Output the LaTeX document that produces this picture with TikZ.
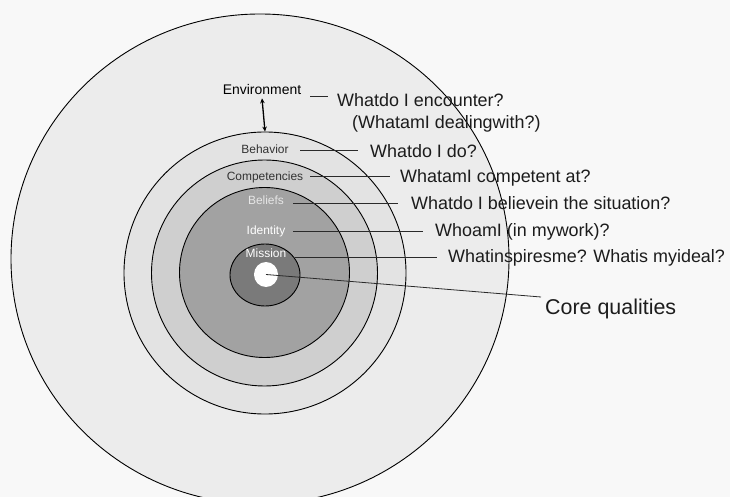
\documentclass[tikz,border=0pt]{standalone}
\usepackage{fontspec}
\setmainfont{Liberation Sans}
\usetikzlibrary{shapes.geometric,arrows.meta}
\definecolor{bg}{HTML}{F8F8F8}
\definecolor{envfill}{HTML}{ECECEC}
\definecolor{behfill}{HTML}{E3E3E3}
\definecolor{compfill}{HTML}{CFCFCF}
\definecolor{belfill}{HTML}{BBBBBB}
\definecolor{identfill}{HTML}{A2A2A2}
\definecolor{misfill}{HTML}{7A7A7A}
\definecolor{dark}{HTML}{333333}
\definecolor{belt}{HTML}{E6E6E6}
\definecolor{qcol}{HTML}{1C1C1C}
\definecolor{linecol}{HTML}{2A2A2A}
\pgfdeclareradialshading{identshade}{\pgfpoint{0bp}{0bp}}{color(0bp)=(identfill); color(26bp)=(identfill); color(40bp)=(belfill); color(50bp)=(belfill)}
\begin{document}
\begin{tikzpicture}[x=1bp,y=-1bp,
  ring/.style={circle,draw=black,line width=0.9bp,inner sep=0pt},
  oval/.style={ellipse,draw=black,line width=0.9bp,inner sep=0pt},
  lbl/.style={font=\fontsize{12}{14}\selectfont,inner sep=0pt,anchor=base},
  qtext/.style={font=\fontsize{18}{21}\selectfont,text=qcol,inner sep=0pt,anchor=base west},
  leader/.style={draw=linecol,line width=0.8bp}]
\useasboundingbox (0,0) rectangle (730,497);
\clip (0,0) rectangle (730,497);
\fill[bg] (0,0) rectangle (730,497);
% rings
\node[oval,fill=envfill,minimum width=498bp,minimum height=490bp] (envc) at (260,259) {};
\node[ring,fill=behfill,minimum size=282bp] (behc) at (265,273) {};
\node[ring,fill=compfill,minimum size=226bp] (compc) at (264.5,273) {};
\node[ring,shade,shading=identshade,minimum size=170bp] (belc) at (264.5,272.5) {};
\node[oval,fill=misfill,minimum width=70bp,minimum height=62bp] (misc) at (265,275) {};
\node[ellipse,fill=white,inner sep=0pt,minimum width=24bp,minimum height=25bp] (core) at (266,274.5) {};
% ring labels
\node[lbl,font=\fontsize{14}{16}\selectfont] (env) at (262,95) {Environment};
\node[lbl,text=dark] (beh) at (265,154) {Behavior};
\node[lbl,text=dark] (comp) at (265,181) {Competencies};
\node[lbl,text=belt] (bel) at (266,205) {Beliefs};
\node[lbl,text=white] (ide) at (266,235) {Identity};
\node[lbl,text=white] (mis) at (266,258) {Mission};
% questions
\node[qtext] (qenv) at (337,107) {Whatdo I encounter?};
\node[qtext] (qenv2) at (352,129) {(WhatamI dealingwith?)};
\node[qtext] (qbeh) at (370,158) {Whatdo I do?};
\node[qtext] (qcomp) at (400,183) {WhatamI competent at?};
\node[qtext] (qbel) at (411,210) {Whatdo I believein the situation?};
\node[qtext] (qide) at (435,237) {WhoamI (in mywork)?};
\node[qtext] (qmis) at (448,263) {Whatinspiresme? Whatis myideal?};
\node[qtext,font=\fontsize{21.5}{24}\selectfont] (qcore) at (545,314) {Core qualities};
% leader end points
\coordinate (e1) at (310,96);  \coordinate (e2) at (328,96);
\coordinate (b1) at (300,150); \coordinate (b2) at (358,150);
\coordinate (c1) at (310,176); \coordinate (c2) at (390,176);
\coordinate (l1) at (293,203); \coordinate (l2) at (398,203);
\coordinate (i1) at (293,231); \coordinate (i2) at (423,231);
\coordinate (m1) at (295,257); \coordinate (m2) at (437,257);
\coordinate (k2) at (541,297);
% connectors
\draw[leader] (e1) -- (e2);
\draw[leader] (b1) -- (b2);
\draw[leader] (c1) -- (c2);
\draw[leader] (l1) -- (l2);
\draw[leader] (i1) -- (i2);
\draw[leader] (m1) -- (m2);
\draw[leader] (core.center) -- (k2);
\draw[line width=1.3bp,{Stealth[length=5bp,width=4.5bp]}-{Stealth[length=5bp,width=4.5bp]}] ([yshift=-3bp]env.south) -- (behc.north);
\end{tikzpicture}
\end{document}
